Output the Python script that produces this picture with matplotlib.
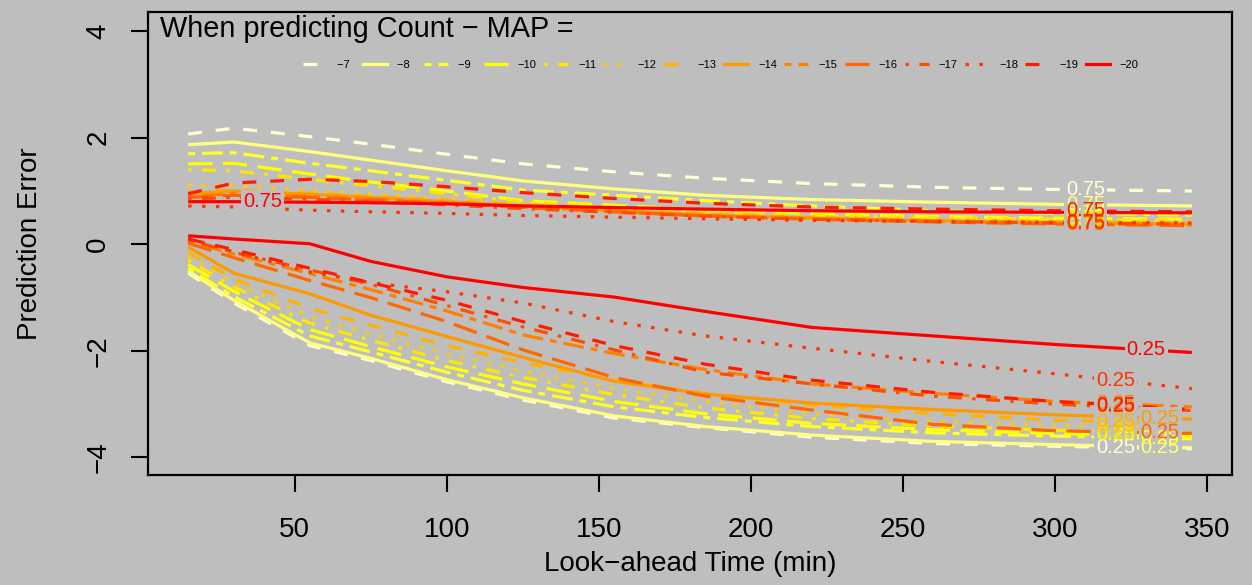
import numpy as np
import matplotlib
matplotlib.use("Agg")
import matplotlib.pyplot as plt
from matplotlib.lines import Line2D

plt.rcParams['font.family'] = ['Liberation Sans', 'DejaVu Sans']
plt.rcParams['lines.scale_dashes'] = False

# Look-ahead times (min) at which the error quantiles were computed
lookahead = [15, 30, 55, 75, 100, 125, 155, 185, 220, 260, 300, 345]

# Count - MAP groups
map_offsets = [-7, -8, -9, -10, -11, -12, -13, -14, -15, -16, -17, -18, -19, -20]

# Upper (0.75) quantile of the prediction error per group
q75 = [
    [2.07, 2.18, 2.02, 1.88, 1.69, 1.51, 1.36, 1.24, 1.14, 1.07, 1.03, 1.00],
    [1.87, 1.92, 1.74, 1.58, 1.38, 1.19, 1.04, 0.92, 0.84, 0.79, 0.75, 0.72],
    [1.70, 1.72, 1.52, 1.38, 1.20, 1.02, 0.92, 0.82, 0.72, 0.63, 0.58, 0.55],
    [1.51, 1.52, 1.32, 1.17, 1.00, 0.82, 0.73, 0.65, 0.58, 0.52, 0.49, 0.47],
    [1.40, 1.38, 1.22, 1.10, 0.95, 0.80, 0.68, 0.60, 0.54, 0.50, 0.47, 0.45],
    [1.10, 1.10, 1.02, 0.95, 0.86, 0.76, 0.66, 0.58, 0.52, 0.47, 0.44, 0.42],
    [0.98, 1.02, 0.96, 0.90, 0.83, 0.74, 0.65, 0.57, 0.50, 0.45, 0.42, 0.40],
    [0.95, 1.00, 0.94, 0.88, 0.80, 0.72, 0.63, 0.55, 0.49, 0.44, 0.40, 0.38],
    [0.90, 0.95, 0.90, 0.85, 0.78, 0.70, 0.62, 0.54, 0.48, 0.43, 0.39, 0.36],
    [0.88, 0.92, 0.88, 0.83, 0.77, 0.69, 0.61, 0.53, 0.47, 0.42, 0.38, 0.35],
    [0.85, 0.88, 0.85, 0.80, 0.74, 0.67, 0.60, 0.53, 0.47, 0.43, 0.40, 0.38],
    [0.72, 0.70, 0.64, 0.61, 0.58, 0.54, 0.51, 0.48, 0.45, 0.43, 0.41, 0.40],
    [0.95, 1.15, 1.22, 1.18, 1.08, 0.97, 0.86, 0.77, 0.70, 0.66, 0.63, 0.61],
    [0.80, 0.80, 0.79, 0.78, 0.76, 0.72, 0.69, 0.66, 0.63, 0.61, 0.60, 0.59],
]

# Lower (0.25) quantile of the prediction error per group
q25 = [
    [-0.54, -1.10, -1.90, -2.18, -2.58, -2.92, -3.26, -3.44, -3.62, -3.74, -3.79, -3.84],
    [-0.50, -1.05, -1.85, -2.14, -2.54, -2.88, -3.22, -3.42, -3.58, -3.70, -3.76, -3.82],
    [-0.45, -0.98, -1.72, -2.02, -2.40, -2.74, -3.05, -3.25, -3.42, -3.54, -3.60, -3.65],
    [-0.38, -0.88, -1.60, -1.92, -2.30, -2.62, -2.95, -3.18, -3.36, -3.48, -3.55, -3.60],
    [-0.30, -0.80, -1.48, -1.80, -2.18, -2.50, -2.82, -3.07, -3.27, -3.41, -3.49, -3.53],
    [-0.22, -0.72, -1.35, -1.68, -2.05, -2.38, -2.70, -2.95, -3.18, -3.32, -3.40, -3.44],
    [-0.15, -0.65, -1.20, -1.52, -1.90, -2.22, -2.55, -2.80, -3.02, -3.18, -3.30, -3.36],
    [-0.05, -0.54, -0.93, -1.33, -1.73, -2.12, -2.57, -2.81, -2.98, -3.10, -3.20, -3.28],
    [0.05, -0.18, -0.55, -0.85, -1.25, -1.70, -2.05, -2.35, -2.62, -2.80, -2.95, -3.05],
    [0.02, -0.25, -0.68, -1.00, -1.45, -1.98, -2.50, -2.85, -3.11, -3.38, -3.50, -3.55],
    [0.08, -0.15, -0.48, -0.75, -1.15, -1.55, -1.98, -2.40, -2.62, -2.85, -3.00, -3.12],
    [0.12, -0.14, -0.52, -0.72, -0.89, -1.10, -1.45, -1.72, -1.95, -2.20, -2.43, -2.71],
    [0.10, -0.10, -0.45, -0.72, -1.05, -1.45, -1.90, -2.25, -2.55, -2.78, -2.95, -3.10],
    [0.16, 0.10, 0.01, -0.32, -0.61, -0.81, -0.99, -1.26, -1.56, -1.72, -1.88, -2.03],
]

# Where along each curve the quantile label sits (look-ahead minutes)
label_x75 = [310, 310, 310, 310, 310, 310, 310, 310, 310, 310, 310, 310, 310, 39.5]
label_x25 = [320, 334.6, 334.6, 320, 320, 320, 320, 334.6, 320, 334.6, 320, 320, 320, 330]

# Colours: reversed heat palette (cream -> yellow -> orange -> red)
colors = ['#FFFFD5', '#FFFF80', '#FFFF2A', '#FFFF00', '#FFE600', '#FFCC00', '#FFB300',
          '#FF9900', '#FF8000', '#FF6600', '#FF4D00', '#FF3300', '#FF1A00', '#FF0000']

u = 2.5  # dash unit in points
lty_cycle = [
    (0, (4 * u, 4 * u)),                 # dashed
    '-',                                  # solid
    (0, (2 * u, 2 * u, 6 * u, 2 * u)),   # two-dash
    (0, (7 * u, 3 * u)),                 # long dash
    (0, (1 * u, 3 * u, 4 * u, 3 * u)),   # dot-dash
    (0, (1 * u, 3 * u)),                 # dotted
]
linestyles = [lty_cycle[i % 6] for i in range(len(map_offsets))]

BG = '#BEBEBE'
LW = 2.3
LABEL_FS = 14.5

fig = plt.figure(figsize=(12.52, 5.85), dpi=100, facecolor=BG)
ax = fig.add_axes([148 / 1252, 1 - 475 / 585, (1232 - 148) / 1252, (475 - 12) / 585])
ax.set_facecolor(BG)

for i, off in enumerate(map_offsets):
    for series in (q75[i], q25[i]):
        ax.plot(lookahead, series, color=colors[i], linestyle=linestyles[i],
                lw=LW, solid_capstyle='butt', zorder=2)

# Quantile labels sitting in gaps of their curves
def put_label(xpos, series, txt, col):
    ypos = np.interp(xpos, lookahead, series)
    ax.text(xpos, ypos, txt, fontsize=LABEL_FS, color=BG, ha='center', va='center',
            zorder=3, bbox=dict(boxstyle='square,pad=0.1', fc=BG, ec='none'))
    ax.text(xpos, ypos, txt, fontsize=LABEL_FS, color=col, ha='center', va='center',
            zorder=4)

for i in range(len(map_offsets)):
    put_label(label_x75[i], q75[i], '0.75', colors[i])
    put_label(label_x25[i], q25[i], '0.25', colors[i])

ax.set_xlim(1.8, 358.2)
ax.set_ylim(-4.33, 4.36)
ax.set_xticks([50, 100, 150, 200, 250, 300, 350])
ax.set_yticks([-4, -2, 0, 2, 4])
ax.set_yticklabels(['\u22124', '\u22122', '0', '2', '4'], rotation=90, va='center')
ax.tick_params(direction='out', length=12.5, width=1.5, labelsize=20, colors='black')
ax.tick_params(axis='x', pad=17.5)
ax.tick_params(axis='y', pad=14)
for sp in ax.spines.values():
    sp.set_linewidth(1.6)

ax.set_xlabel('Look\u2212ahead Time (min)', fontsize=20)
ax.set_ylabel('Prediction Error', fontsize=20)
ax.xaxis.set_label_coords(0.5, -0.164)
ax.yaxis.set_label_coords(-0.097, 0.5)

ax.text(0.011, 0.946, 'When predicting Count \u2212 MAP =', transform=ax.transAxes,
        fontsize=20.8, ha='left', va='baseline', zorder=5)

handles = [Line2D([], [], color=colors[i], linestyle=linestyles[i], lw=LW)
           for i in range(len(map_offsets))]
labels = [('\u2212%d' % abs(o)) + ('\u2007' if abs(o) < 10 else '') for o in map_offsets]
leg = ax.legend(handles, labels, ncol=14, loc='center left',
                bbox_to_anchor=(0.143, 0.8855), frameon=False, fontsize=8,
                handlelength=2.16, handletextpad=0.9, columnspacing=0.66,
                borderpad=0, borderaxespad=0)
leg.set_zorder(5)

fig.savefig('out.png', dpi=100, facecolor=BG)
